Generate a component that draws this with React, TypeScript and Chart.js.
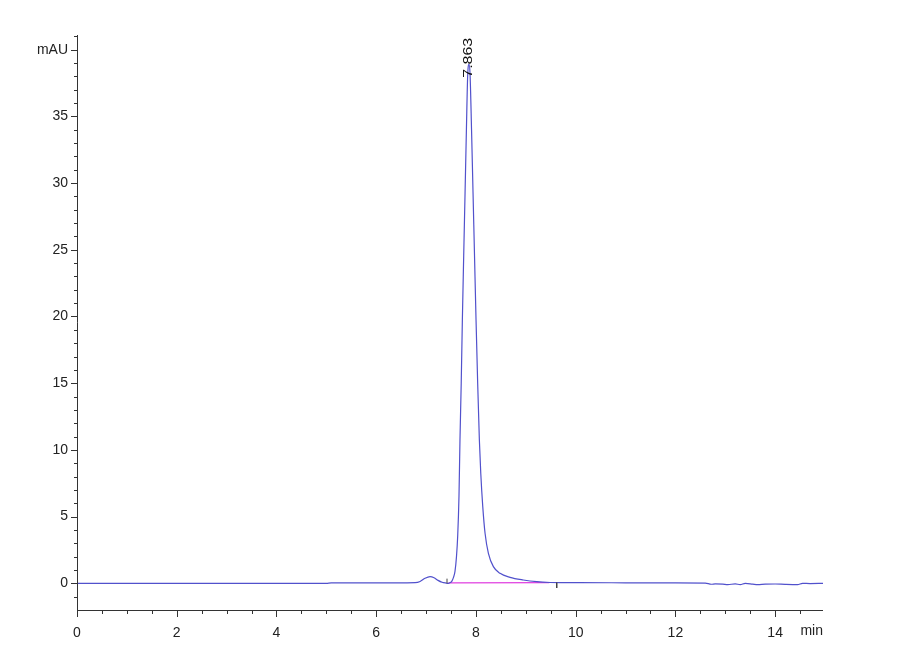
import React, { useEffect, useRef } from "react";
import { Chart, registerables } from "chart.js";

Chart.register(...registerables);

// Retention time (min) and absorbance (mAU)
const TIMES = [
  0, 2, 4, 5.0, 5.1, 6.0, 6.6, 6.78, 6.88, 6.98, 7.08, 7.16, 7.24, 7.32, 7.4, 7.45,
  7.48, 7.515, 7.55, 7.58, 7.61, 7.635, 7.66, 7.68, 7.705, 7.728, 7.755, 7.782,
  7.809, 7.836, 7.862, 7.882, 7.912, 7.942, 7.972, 8.002, 8.035, 8.069, 8.097,
  8.137, 8.183, 8.25, 8.35, 8.484, 8.684, 8.95, 9.22, 9.49, 9.7, 10.0, 11.0, 12.0,
  12.6, 12.72, 12.8, 12.95, 13.05, 13.2, 13.3, 13.4, 13.55, 13.65, 13.8, 14.0, 14.2,
  14.45, 14.55, 14.7, 14.96,
];
const SIGNAL = [
  0, 0, 0, 0, 0.03, 0.03, 0.04, 0.05, 0.14, 0.38, 0.5, 0.42, 0.22, 0.08, 0.02, 0.0,
  0.05, 0.15, 0.45, 0.9, 2.0, 3.6, 6.5, 10.75, 15.0, 19.76, 24.6, 29.26,
  34.0, 38.2, 38.9, 38.2, 34.0, 29.26, 24.5, 19.76, 15.0, 10.75, 8.25,
  5.75, 3.75, 2.25, 1.25, 0.75, 0.45, 0.25, 0.12, 0.06, 0.05, 0.05, 0.04, 0.03,
  0.02, -0.07, -0.04, -0.06, -0.1, -0.04, -0.1, 0.0, -0.06, -0.1, -0.06, -0.05,
  -0.08, -0.1, 0.0, -0.02, 0.0,
];

// Integration baseline (magenta) and peak start/end markers
const BASELINE_T = [7.45, 9.47];
const BASELINE_V = [0.03, 0.05];
const MARK_START_T = 7.42;
const MARK_START_V = [0.0, 0.35];
const MARK_END_T = 9.62;
const MARK_END_V = [0.05, -0.35];

// Peak annotation
const PEAK_LABEL = "7.863";
const PEAK_T = 7.863;
const PEAK_LABEL_Y = 37.9;

// Axes
const X_MIN = 0;
const X_MAX = 14.96;
const Y_MIN = -2;
const Y_MAX = 41.1;
const X_TICKS = [0, 2, 4, 6, 8, 10, 12, 14];
const Y_TICKS = [0, 5, 10, 15, 20, 25, 30, 35, 40];
const Y_TICK_LABELS = ["0", "5", "10", "15", "20", "25", "30", "35", "mAU"];
const X_UNIT = "min";

const LABEL_FONT = "'Liberation Sans', Arial, sans-serif";
const AXIS_COLOR = "#333333";

const axisPlugin = {
  id: "hplcAxes",
  afterDraw(chart: any) {
    const { ctx, chartArea } = chart;
    const xs = chart.scales.x;
    const ys = chart.scales.y;
    ctx.save();
    ctx.strokeStyle = AXIS_COLOR;
    ctx.lineWidth = 1;
    // axis lines
    ctx.beginPath();
    ctx.moveTo(chartArea.left + 0.5, chartArea.top);
    ctx.lineTo(chartArea.left + 0.5, chartArea.bottom + 0.5);
    ctx.lineTo(chartArea.right, chartArea.bottom + 0.5);
    ctx.stroke();
    // y ticks
    ctx.beginPath();
    for (let v = Math.ceil(Y_MIN + 1); v <= Y_MAX; v += 1) {
      const py = Math.round(ys.getPixelForValue(v)) + 0.5;
      const len = v % 5 === 0 ? 6 : 3;
      ctx.moveTo(chartArea.left, py);
      ctx.lineTo(chartArea.left - len, py);
    }
    // x ticks
    for (let t = X_MIN; t <= X_MAX; t += 0.5) {
      const px = Math.round(xs.getPixelForValue(t)) + 0.5;
      const len = Math.abs(t % 2) < 1e-6 ? 7 : 4;
      ctx.moveTo(px, chartArea.bottom);
      ctx.lineTo(px, chartArea.bottom + len);
    }
    ctx.stroke();
    // unit label
    ctx.fillStyle = "#222222";
    ctx.font = `14px ${LABEL_FONT}`;
    ctx.textAlign = "right";
    ctx.textBaseline = "middle";
    ctx.fillText(X_UNIT, chartArea.right, chartArea.bottom + 21);
    // peak label (rotated)
    const lx = xs.getPixelForValue(PEAK_T);
    const ly = ys.getPixelForValue(PEAK_LABEL_Y);
    ctx.translate(lx, ly);
    ctx.rotate(-Math.PI / 2);
    ctx.scale(1.33, 1);
    ctx.font = "12px 'Liberation Sans', Arial, sans-serif";
    ctx.textAlign = "left";
    ctx.textBaseline = "middle";
    ctx.fillStyle = "#111111";
    ctx.fillText(PEAK_LABEL, 0, 0);
    ctx.restore();
  },
};

export default function App() {
  const canvasRef = useRef<HTMLCanvasElement | null>(null);

  useEffect(() => {
    if (!canvasRef.current) return;
    const trace = TIMES.map((t, i) => ({ x: t, y: SIGNAL[i] }));
    const base = BASELINE_T.map((t, i) => ({ x: t, y: BASELINE_V[i] }));
    const markStart = MARK_START_V.map((v) => ({ x: MARK_START_T, y: v }));
    const markEnd = MARK_END_V.map((v) => ({ x: MARK_END_T, y: v }));

    const chart = new Chart(canvasRef.current, {
      type: "line",
      data: {
        datasets: [
          {
            data: markStart,
            borderColor: "#444444",
            borderWidth: 1,
            pointRadius: 0,
          },
          {
            data: markEnd,
            borderColor: "#444444",
            borderWidth: 1,
            pointRadius: 0,
          },
          {
            data: trace,
            borderColor: "#5151cc",
            borderWidth: 1.2,
            pointRadius: 0,
            cubicInterpolationMode: "monotone",
          },
          {
            data: base,
            borderColor: "#e040e0",
            borderWidth: 1.2,
            pointRadius: 0,
          },
        ],
      },
      options: {
        animation: false,
        responsive: false,
        devicePixelRatio: 1,
        layout: { padding: { top: 35, right: 77, left: 0, bottom: 0 } },
        plugins: {
          legend: { display: false },
          tooltip: { enabled: false },
        },
        scales: {
          x: {
            type: "linear",
            min: X_MIN,
            max: X_MAX,
            grid: { display: false },
            border: { display: false },
            afterFit: (s: any) => {
              s.height = 50;
            },
            afterBuildTicks: (s: any) => {
              s.ticks = X_TICKS.map((v) => ({ value: v }));
            },
            ticks: {
              autoSkip: false,
              maxRotation: 0,
              padding: 7,
              color: "#222222",
              font: { family: LABEL_FONT, size: 14 },
              callback: (v: any) => String(v),
            },
          },
          y: {
            type: "linear",
            min: Y_MIN,
            max: Y_MAX,
            grid: { display: false },
            border: { display: false },
            afterFit: (s: any) => {
              s.width = 77;
            },
            afterBuildTicks: (s: any) => {
              s.ticks = Y_TICKS.map((v) => ({ value: v }));
            },
            ticks: {
              autoSkip: false,
              padding: 1,
              color: "#222222",
              font: { family: LABEL_FONT, size: 14 },
              callback: (v: any) => {
                const i = Y_TICKS.indexOf(Number(v));
                return i >= 0 ? Y_TICK_LABELS[i] : "";
              },
            },
          },
        },
      },
      plugins: [axisPlugin],
    } as any);
    return () => chart.destroy();
  }, []);

  return (
    <div style={{ position: "absolute", left: 0, top: 0, width: 900, height: 660, background: "#fff" }}>
      <canvas ref={canvasRef} width={900} height={660} style={{ width: 900, height: 660 }} />
    </div>
  );
}
